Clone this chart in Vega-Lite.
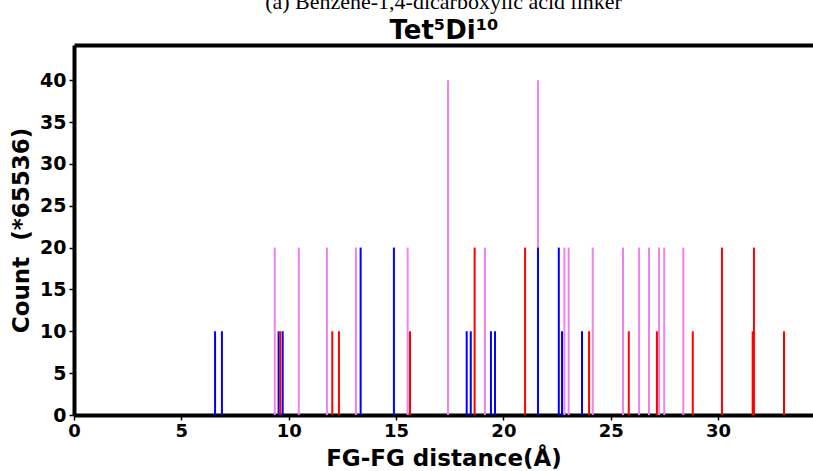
{
  "$schema": "https://vega.github.io/schema/vega-lite/v6.json",
  "width": 739,
  "height": 370,
  "autosize": {"type": "none"},
  "padding": {"left": 74, "top": 45, "right": 0, "bottom": 56},
  "background": "white",
  "config": {
    "view": {"stroke": null},
    "font": "DejaVu Sans"
  },
  "title": {
    "text": "(a) Benzene-1,4-dicarboxylic acid linker",
    "font": "Liberation Serif",
    "fontSize": 22,
    "fontWeight": "normal",
    "color": "black",
    "anchor": "middle",
    "offset": 3
  },
  "data": {
    "values": [
      {"d": 9.35, "count": 20, "series": "violet"},
      {"d": 10.47, "count": 20, "series": "violet"},
      {"d": 11.78, "count": 20, "series": "violet"},
      {"d": 13.13, "count": 20, "series": "violet"},
      {"d": 15.54, "count": 20, "series": "violet"},
      {"d": 17.42, "count": 40, "series": "violet"},
      {"d": 19.14, "count": 20, "series": "violet"},
      {"d": 21.61, "count": 40, "series": "violet"},
      {"d": 22.84, "count": 20, "series": "violet"},
      {"d": 23.04, "count": 20, "series": "violet"},
      {"d": 24.16, "count": 20, "series": "violet"},
      {"d": 25.57, "count": 20, "series": "violet"},
      {"d": 26.32, "count": 20, "series": "violet"},
      {"d": 26.78, "count": 20, "series": "violet"},
      {"d": 27.25, "count": 20, "series": "violet"},
      {"d": 27.49, "count": 20, "series": "violet"},
      {"d": 28.38, "count": 20, "series": "violet"},
      {"d": 6.57, "count": 10, "series": "blue"},
      {"d": 6.89, "count": 10, "series": "blue"},
      {"d": 9.53, "count": 10, "series": "blue"},
      {"d": 9.72, "count": 10, "series": "blue"},
      {"d": 13.35, "count": 20, "series": "blue"},
      {"d": 14.9, "count": 20, "series": "blue"},
      {"d": 18.29, "count": 10, "series": "blue"},
      {"d": 18.48, "count": 10, "series": "blue"},
      {"d": 19.42, "count": 10, "series": "blue"},
      {"d": 19.61, "count": 10, "series": "blue"},
      {"d": 21.61, "count": 20, "series": "blue"},
      {"d": 22.58, "count": 20, "series": "blue"},
      {"d": 22.73, "count": 10, "series": "blue"},
      {"d": 23.66, "count": 10, "series": "blue"},
      {"d": 9.61, "count": 10, "series": "red"},
      {"d": 12.03, "count": 10, "series": "red"},
      {"d": 12.34, "count": 10, "series": "red"},
      {"d": 15.65, "count": 10, "series": "red"},
      {"d": 18.66, "count": 20, "series": "red"},
      {"d": 21.01, "count": 20, "series": "red"},
      {"d": 23.99, "count": 10, "series": "red"},
      {"d": 25.84, "count": 10, "series": "red"},
      {"d": 27.15, "count": 10, "series": "red"},
      {"d": 28.82, "count": 10, "series": "red"},
      {"d": 30.18, "count": 20, "series": "red"},
      {"d": 31.61, "count": 10, "series": "red"},
      {"d": 31.67, "count": 20, "series": "red"},
      {"d": 33.07, "count": 10, "series": "red"}
    ]
  },
  "layer": [
    {
      "mark": {"type": "rule", "strokeWidth": 2},
      "encoding": {
        "x": {
          "field": "d",
          "type": "quantitative",
          "scale": {"domain": [0, 34.42], "nice": false, "zero": false},
          "axis": {
            "title": "FG-FG distance(Å)",
            "values": [0, 5, 10, 15, 20, 25, 30],
            "format": "d",
            "labelFlush": false,
            "domainColor": "black",
            "domainWidth": 4,
            "tickColor": "black",
            "tickSize": 5,
            "tickWidth": 1.5,
            "grid": false,
            "labelFontSize": 18,
            "labelFontWeight": "bold",
            "labelColor": "black",
            "labelPadding": 2,
            "titleFontSize": 23,
            "titleFontWeight": "bold",
            "titleColor": "black",
            "titlePadding": 7
          }
        },
        "y": {
          "field": "count",
          "type": "quantitative",
          "scale": {"domain": [0, 44.2], "nice": false},
          "axis": {
            "title": "Count\u00a0 (*65536)",
            "values": [0, 5, 10, 15, 20, 25, 30, 35, 40],
            "labelFlush": false,
            "domainColor": "black",
            "domainWidth": 4,
            "tickColor": "black",
            "tickSize": 5,
            "tickWidth": 1.5,
            "grid": false,
            "labelFontSize": 19,
            "labelFontWeight": "bold",
            "labelColor": "black",
            "labelPadding": 3,
            "titleFontSize": 23,
            "titleFontWeight": "bold",
            "titleColor": "black",
            "titlePadding": 6
          }
        },
        "y2": {"datum": 0},
        "color": {
          "field": "series",
          "type": "nominal",
          "scale": {"domain": ["violet", "blue", "red"], "range": ["#ee82ee", "#0000ff", "#ff0000"]},
          "legend": null
        }
      }
    },
    {
      "mark": {"type": "rule", "opacity": 0},
      "encoding": {
        "x": {
          "datum": 0,
          "type": "quantitative",
          "axis": {
            "orient": "top",
            "title": "Tet⁵Di¹⁰",
            "titleFontSize": 26,
            "titleFontWeight": "bold",
            "titleColor": "black",
            "titlePadding": 2,
            "domainColor": "black",
            "domainWidth": 4,
            "ticks": false,
            "labels": false,
            "grid": false
          }
        }
      }
    }
  ],
  "resolve": {"axis": {"x": "independent"}}
}
